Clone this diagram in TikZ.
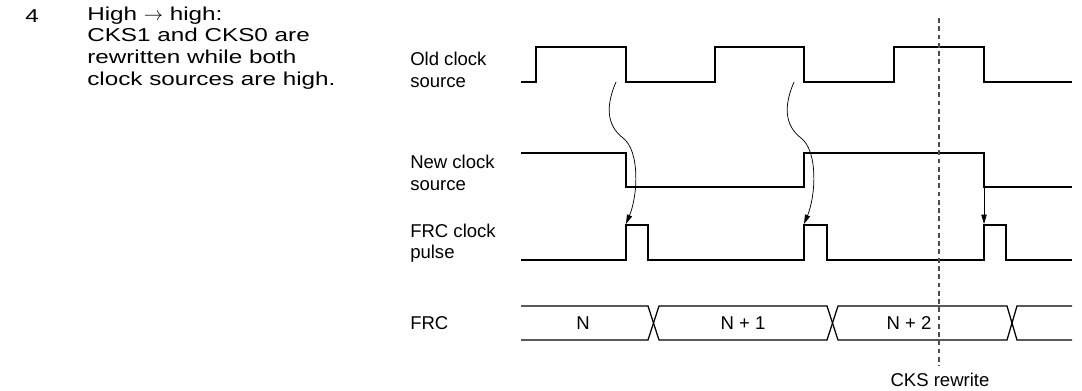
\documentclass[tikz,border=0pt]{standalone}
\usepackage{fontspec}
\setmainfont{Liberation Sans}
\newfontfamily\descfont[FakeStretch=1.3]{Liberation Sans}
\usetikzlibrary{arrows.meta}
\begin{document}
\begin{tikzpicture}[x=0.75pt,y=-0.75pt,
  txt/.style={font=\fontsize{13.9}{16}\selectfont, inner sep=0pt, align=left},
  desctxt/.style={font=\descfont\fontsize{14}{16.3}\selectfont, inner sep=0pt, align=left},
  wave/.style={line width=0.95pt, line join=miter},
  link/.style={line width=0.55pt, -{Triangle[length=7pt,width=4pt]}},
  marker/.style={line width=0.8pt, draw=black!70, dash pattern=on 3.6pt off 2.6pt}]
\useasboundingbox (0,0) rectangle (1082,391);
% description
\node[desctxt, anchor=west] (num) at (25,16) {4};
\node[desctxt, anchor=west] (desc) at (87,48) {High $\rightarrow$ high:\\CKS1 and CKS0 are\\rewritten while both\\clock sources are high.};
% signal labels
\node[txt, anchor=west] (lold) at (410,70) {Old clock\\source};
\node[txt, anchor=west] (lnew) at (410,173) {New clock\\source};
\node[txt, anchor=west] (lpulse) at (410,243) {FRC clock\\pulse};
\node[txt, anchor=west] (lfrc) at (410,323) {FRC};
% old clock source
\draw[wave] (521,82) -- (536,82) -- (536,47) -- (626,47) -- (626,82) -- (715,82) -- (715,47)
  -- (804,47) -- (804,82) -- (894,82) -- (894,47) -- (984,47) -- (984,82) -- (1072,82);
% new clock source
\draw[wave] (521,153) -- (626,153) -- (626,187) -- (804,187) -- (804,153) -- (984,153) -- (984,187) -- (1072,187);
% FRC clock pulse
\draw[wave] (521,260) -- (626,260) -- (626,225) -- (648,225) -- (648,260) -- (804,260) -- (804,225)
  -- (827,225) -- (827,260) -- (984,260) -- (984,225) -- (1006,225) -- (1006,260) -- (1072,260);
% FRC bus
\draw[wave] (521,306) -- (648,306) -- (659,340) -- (827,340) -- (838,306) -- (1007,306) -- (1017,340) -- (1072,340);
\draw[wave] (521,340) -- (648,340) -- (659,306) -- (827,306) -- (838,340) -- (1007,340) -- (1017,306) -- (1072,306);
\node[txt] (vn) at (583,323) {N};
\node[txt] (vn1) at (743,323) {N + 1};
\node[txt] (vn2) at (909,323) {N + 2};
% CKS rewrite marker
\coordinate (mtop) at (939,18);
\coordinate (mbot) at (939,366);
\draw[marker] (mtop) -- (mbot);
\node[txt, anchor=center] (lcks) at (940,380) {CKS rewrite};
% arrows
\coordinate (a1s) at (616,82);
\coordinate (a1m) at (623,138);
\coordinate (a1e) at (626,224);
\coordinate (a2s) at (794,82);
\coordinate (a2m) at (801,138);
\coordinate (a2e) at (804,224);
\coordinate (a3s) at (984,187);
\coordinate (a3e) at (984,224);
\draw[link] (a1s) .. controls (606,105) and (606,125) .. (a1m) .. controls (640,151) and (638,195) .. (a1e);
\draw[link] (a2s) .. controls (784,105) and (784,125) .. (a2m) .. controls (818,151) and (816,195) .. (a2e);
\draw[link] (a3s) -- (a3e);
\end{tikzpicture}
\end{document}
